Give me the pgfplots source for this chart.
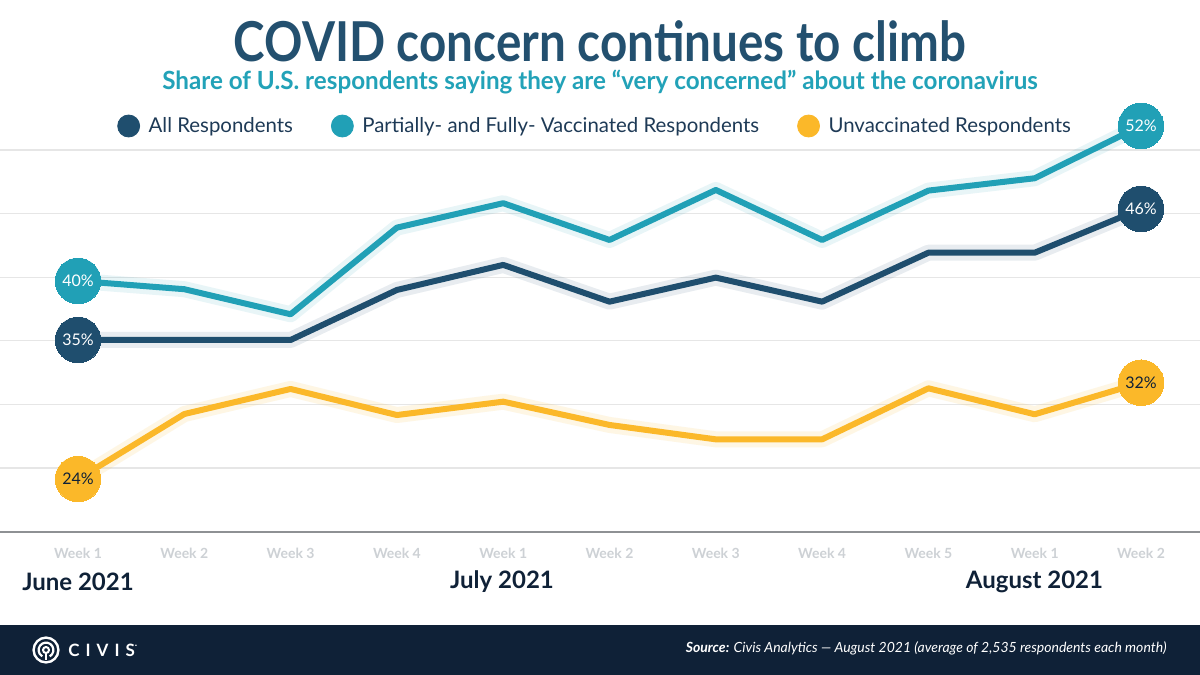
\documentclass[border=0pt]{standalone}
\usepackage{fontspec}
\setmainfont{Lato}
\usepackage{graphicx}
\usepackage{pgfplots}
\usepackage{pgfplotstable}
\pgfplotsset{compat=1.18}
\definecolor{cdark}{HTML}{1F4E6E}
\definecolor{cteal}{HTML}{21A0B6}
\definecolor{cyel}{HTML}{FBB829}
\definecolor{ctitle}{HTML}{23506F}
\definecolor{csub}{HTML}{22A2B8}
\definecolor{clegend}{HTML}{1E3A56}
\definecolor{cmonth}{HTML}{0F2137}
\definecolor{cfoot}{HTML}{0F2137}
\definecolor{cgrid}{HTML}{E6E6E6}
\definecolor{caxis}{HTML}{8E9194}
\definecolor{cweek}{HTML}{CDD1D5}
\pgfplotstableread{
x all vax unvax
0 35.07 39.71 24.14
1 35.07 39.06 29.25
2 35.07 37.09 31.22
3 39.00 43.90 29.17
4 40.97 45.82 30.22
5 38.08 42.93 28.39
6 39.97 46.86 27.26
7 38.08 42.93 27.26
8 41.93 46.81 31.27
9 41.93 47.78 29.23
10 45.37 51.90 31.71
}\datatable
\begin{document}
\begin{tikzpicture}
\useasboundingbox (0,0) rectangle (600pt,-337.5pt);
\fill[white] (0,0) rectangle (600pt,-337.5pt);
\begin{axis}[
  at={(0pt,-265.85pt)}, anchor=south west,
  width=600pt, height=190.85pt, scale only axis,
  xmin=-0.734, xmax=10.555, ymin=20, ymax=50,
  axis line style={draw=none},
  ytick={20,25,...,50}, yticklabels={}, ymajorgrids,
  grid style={cgrid, line width=0.6pt},
  ytick style={draw=none},
  xtick={0,...,10},
  xticklabels={Week 1,Week 2,Week 3,Week 4,Week 1,Week 2,Week 3,Week 4,Week 5,Week 1,Week 2},
  xtick style={draw=none},
  xticklabel style={font=\bfseries\fontsize{7}{8}\selectfont, text=cweek, yshift=-4.5pt},
  clip=false,
  legend image code/.code={\fill[#1] (5.5pt,0pt) circle (5.5pt); \path[draw=none,fill=none] (0pt,-0.1pt) rectangle (13.5pt,0.1pt);},
  legend style={at={(0.4967,1.0629)}, anchor=center, draw=none, fill=none,
    legend columns=3, font=\fontsize{10.2}{12}\selectfont, text=clegend,
    /tikz/every even column/.append style={column sep=17pt}},
]
\addlegendimage{cdark}
\addlegendimage{cteal}
\addlegendimage{cyel}
\draw[caxis, line width=1.1pt] (rel axis cs:0,0) -- (rel axis cs:1,0);
% glows
\addplot[forget plot, cteal, line width=8pt, opacity=0.10, line join=round] table[x=x,y=vax]{\datatable};
\addplot[forget plot, cdark, line width=8pt, opacity=0.10, line join=round] table[x=x,y=all]{\datatable};
\addplot[forget plot, cyel, line width=8pt, opacity=0.12, line join=round] table[x=x,y=unvax]{\datatable};
% lines
\addplot[forget plot, cteal, line width=3pt, line join=round, mark=none] table[x=x,y=vax]{\datatable};
\addplot[forget plot, cdark, line width=3pt, line join=round, mark=none] table[x=x,y=all]{\datatable};
\addplot[forget plot, cyel, line width=3pt, line join=round, mark=none] table[x=x,y=unvax]{\datatable};
% end markers
\addplot[forget plot, cteal, only marks, mark=*, mark size=11.4pt, mark options={fill=cteal, draw=cteal, line width=0pt},
  nodes near coords, point meta=explicit symbolic,
  every node near coord/.append style={anchor=center, text=white, font=\fontsize{8}{8}\selectfont}]
  coordinates {(0,39.71)[40\%] (10,51.90)[52\%]};
\addplot[forget plot, cdark, only marks, mark=*, mark size=11.4pt, mark options={fill=cdark, draw=cdark, line width=0pt},
  nodes near coords, point meta=explicit symbolic,
  every node near coord/.append style={anchor=center, text=white, font=\fontsize{8}{8}\selectfont}]
  coordinates {(0,35.07)[35\%] (10,45.37)[46\%]};
\addplot[forget plot, cyel, only marks, mark=*, mark size=11.4pt, mark options={fill=cyel, draw=cyel, line width=0pt},
  nodes near coords, point meta=explicit symbolic,
  every node near coord/.append style={anchor=center, text=cmonth, font=\fontsize{8}{8}\selectfont}]
  coordinates {(0,24.14)[24\%] (10,31.71)[32\%]};
\legend{All Respondents,Partially- and Fully- Vaccinated Respondents,Unvaccinated Respondents}
\end{axis}
% titles
\node[text=ctitle, font=\bfseries\fontsize{27.5}{30}\selectfont, inner sep=0pt] at (300pt,-20.5pt) {\scalebox{0.865}[1]{COVID concern continues to climb}};
\node[text=csub, font=\bfseries\fontsize{12.5}{14}\selectfont, inner sep=0pt] at (300pt,-41pt) {\scalebox{0.968}[1]{Share of U.S. respondents saying they are “very concerned” about the coronavirus}};
% months
\node[text=cmonth, font=\bfseries\fontsize{12}{14}\selectfont] at (39pt,-291pt) {June 2021};
\node[text=cmonth, font=\bfseries\fontsize{12}{14}\selectfont] at (251pt,-291pt) {July 2021};
\node[text=cmonth, font=\bfseries\fontsize{12}{14}\selectfont] at (517.25pt,-291pt) {August 2021};
% footer
\fill[cfoot] (0,-312.5pt) rectangle (600pt,-337.5pt);
\node[anchor=east, text=white, font=\itshape\fontsize{7}{8}\selectfont, inner sep=0pt] at (583.5pt,-324pt) {\textbf{Source:} Civis Analytics — August 2021 (average of 2,535 respondents each month)};
% logo
\draw[white, line width=1.2pt] (23pt,-325pt) circle (6.2pt);
\draw[white, line width=1.1pt] (23pt,-325pt) ++(-60:3.7pt) arc (-60:240:3.7pt);
\draw[white, line width=1.0pt] (23pt,-325pt) circle (1.5pt);
\draw[white, line width=1.0pt] (23pt,-326.5pt) -- (23pt,-330pt);
\node[anchor=west, text=white, font=\bfseries\fontsize{8.5}{9}\selectfont, inner sep=0pt] at (34pt,-325pt) {C\hspace{3pt}I\hspace{3pt}V\hspace{3pt}I\hspace{3pt}S\raisebox{3pt}{\tiny\textsuperscript{.}}};
\end{tikzpicture}
\end{document}
